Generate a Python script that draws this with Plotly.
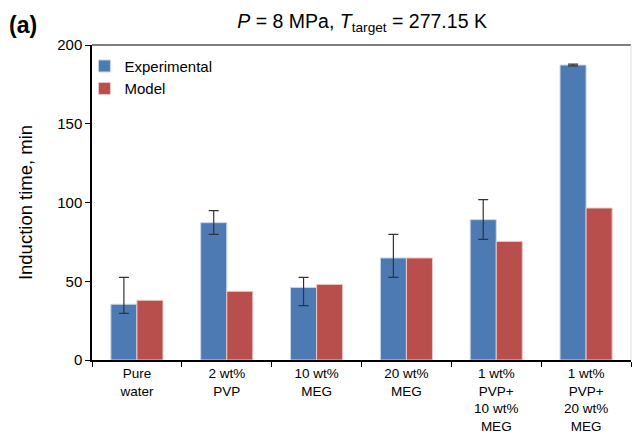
import plotly.graph_objects as go

categories = ["Pure<br>water", "2 wt%<br>PVP", "10 wt%<br>MEG", "20 wt%<br>MEG",
              "1 wt%<br>PVP+<br>10 wt%<br>MEG", "1 wt%<br>PVP+<br>20 wt%<br>MEG"]
experimental = [35.4, 87.2, 46.1, 64.8, 89.1, 187.3]
model = [37.9, 43.6, 48.0, 64.8, 75.3, 96.5]
exp_err_high = [52.5, 94.8, 52.5, 79.8, 101.8, 187.8]
exp_err_low = [29.6, 79.8, 34.5, 52.5, 76.6, 186.8]

err_plus = [h - v for h, v in zip(exp_err_high, experimental)]
err_minus = [v - l for l, v in zip(exp_err_low, experimental)]

FONT = "Arial, Liberation Sans, sans-serif"

fig = go.Figure()
fig.add_trace(go.Bar(
    x=categories, y=experimental, name="Experimental",
    marker=dict(color="#4E7AB3", line=dict(color="#C9D6EA", width=1)),
    error_y=dict(type="data", symmetric=False, array=err_plus, arrayminus=err_minus,
                 color="#333333", thickness=1.2, width=5),
))
fig.add_trace(go.Bar(
    x=categories, y=model, name="Model",
    marker=dict(color="#B94F4C", line=dict(color="#EBC9C8", width=1)),
))

fig.update_layout(
    width=632, height=435,
    margin=dict(l=92, r=1, t=45, b=75),
    paper_bgcolor="white", plot_bgcolor="white",
    font=dict(family=FONT, size=15, color="black"),
    barmode="group", bargap=0.42, bargroupgap=0,
    showlegend=True,
    legend=dict(x=-0.014, y=0.985, xanchor="left", yanchor="top",
                bgcolor="rgba(0,0,0,0)", font=dict(size=15, family=FONT),
                itemwidth=30, tracegroupgap=0),
    title=dict(
        text="<i>P</i> = 8 MPa, <i>T</i><sub>target</sub> = 277.15 K",
        x=0.573, xanchor="center", y=0.952, yanchor="middle",
        font=dict(size=19.5, family=FONT),
    ),
    annotations=[dict(text="<b>(a)</b>", xref="paper", yref="paper",
                      x=-0.158, y=1.065, xanchor="left", yanchor="middle",
                      showarrow=False, font=dict(size=23, family=FONT))],
    shapes=[
        dict(type="line", xref="paper", yref="paper", x0=0, x1=1, y0=1, y1=1,
             line=dict(color="#555555", width=1.5)),
        dict(type="line", xref="paper", yref="paper", x0=1, x1=1, y0=0, y1=1,
             line=dict(color="#DDDDDD", width=1)),
    ],
)

fig.update_xaxes(
    showline=True, linecolor="black", linewidth=1.5,
    ticks="outside", tickson="boundaries", ticklen=5, tickcolor="black",
    tickfont=dict(size=13.5, family=FONT), showgrid=False, automargin=False,
)
fig.update_yaxes(
    range=[0, 200], tickvals=[0, 50, 100, 150, 200],
    showline=True, linecolor="black", linewidth=1.5,
    ticks="outside", ticklen=5, tickcolor="black", showgrid=False, zeroline=False,
    tickfont=dict(size=15, family=FONT),
    title=dict(text="Induction time, min", font=dict(size=18.5, family=FONT), standoff=20),
    automargin=False,
)

fig.write_html("out.html")
